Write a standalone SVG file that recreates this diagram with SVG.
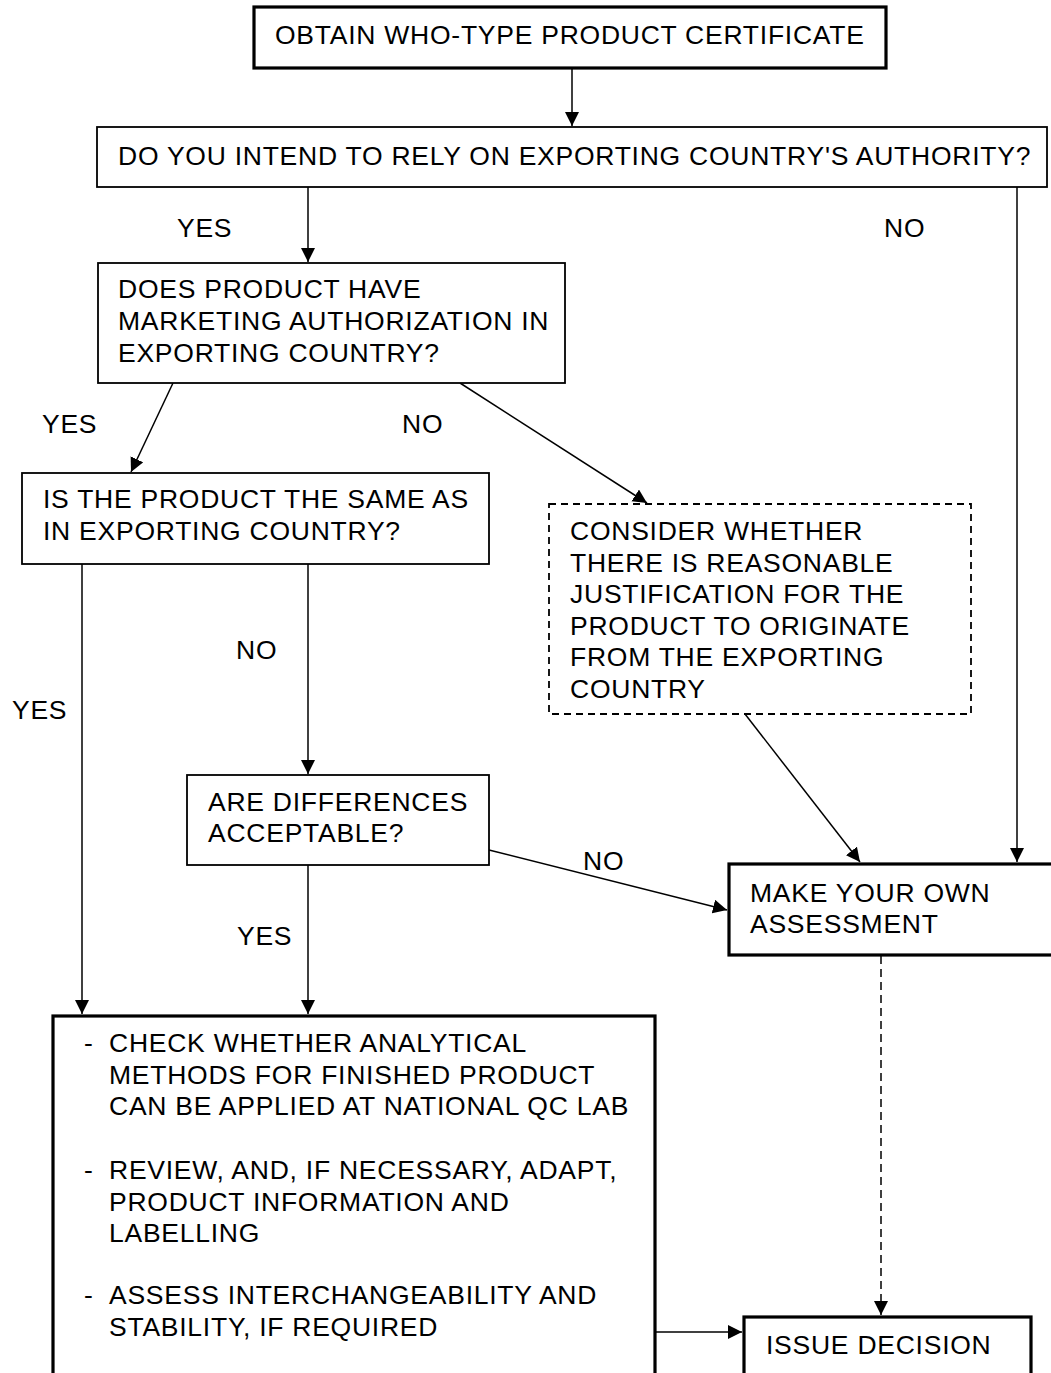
<svg xmlns="http://www.w3.org/2000/svg" width="1051" height="1373" viewBox="0 0 1051 1373">
<defs>
<marker id="ah" markerUnits="userSpaceOnUse" markerWidth="15" markerHeight="15" refX="14" refY="7" orient="auto">
<path d="M0,0 L14,7 L0,14 z" fill="#000"/>
</marker>
<style>
text{font-family:"Liberation Sans",Arial,sans-serif;font-size:26.5px;letter-spacing:0.75px;fill:#000}
.thin{fill:#fff;stroke:#000;stroke-width:1.8}
.thick{fill:#fff;stroke:#000;stroke-width:3.2}
.dash{fill:#fff;stroke:#000;stroke-width:1.8;stroke-dasharray:7 5}
.c{fill:none;stroke:#000;stroke-width:1.5;marker-end:url(#ah)}
.cd{fill:none;stroke:#000;stroke-width:1.5;stroke-dasharray:8 5;marker-end:url(#ah)}
</style>
</defs>
<rect width="1051" height="1373" fill="#fff"/>
<g id="connectors">
<line class="c" x1="572" y1="68" x2="572" y2="126"/>
<line class="c" x1="308" y1="187" x2="308" y2="262"/>
<line class="c" x1="1017" y1="187" x2="1017" y2="862"/>
<line class="c" x1="173" y1="383" x2="131" y2="472"/>
<line class="c" x1="460" y1="383" x2="647" y2="503"/>
<line class="c" x1="308" y1="564" x2="308" y2="774"/>
<line class="c" x1="82" y1="564" x2="82" y2="1014"/>
<line class="c" x1="308" y1="865" x2="308" y2="1014"/>
<line class="c" x1="489" y1="850" x2="727" y2="910"/>
<line class="c" x1="745" y1="714" x2="860" y2="862"/>
<line class="cd" x1="881" y1="956" x2="881" y2="1315"/>
<line class="c" x1="655" y1="1332" x2="742" y2="1332"/>
</g>
<g id="obtain">
<rect class="thick" x="254" y="7" width="632" height="61"/>
<text x="275" y="44">OBTAIN WHO-TYPE PRODUCT CERTIFICATE</text>
</g>
<g id="rely">
<rect class="thin" x="97" y="127" width="950" height="60"/>
<text x="118" y="165">DO YOU INTEND TO RELY ON EXPORTING COUNTRY'S AUTHORITY?</text>
</g>
<g id="labels">
<text x="177" y="237">YES</text>
<text x="884" y="237">NO</text>
<text x="42" y="433">YES</text>
<text x="402" y="433">NO</text>
<text x="236" y="659">NO</text>
<text x="12" y="719">YES</text>
<text x="583" y="870">NO</text>
<text x="237" y="945">YES</text>
</g>
<g id="marketing">
<rect class="thin" x="98" y="263" width="467" height="120"/>
<text x="118" y="298">DOES PRODUCT HAVE</text>
<text x="118" y="330">MARKETING AUTHORIZATION IN</text>
<text x="118" y="362">EXPORTING COUNTRY?</text>
</g>
<g id="same">
<rect class="thin" x="22" y="473" width="467" height="91"/>
<text x="43" y="508">IS THE PRODUCT THE SAME AS</text>
<text x="43" y="540">IN EXPORTING COUNTRY?</text>
</g>
<g id="consider">
<rect class="dash" x="549" y="504" width="422" height="210"/>
<text x="570" y="540">CONSIDER WHETHER</text>
<text x="570" y="571.5">THERE IS REASONABLE</text>
<text x="570" y="603">JUSTIFICATION FOR THE</text>
<text x="570" y="634.5">PRODUCT TO ORIGINATE</text>
<text x="570" y="666">FROM THE EXPORTING</text>
<text x="570" y="697.5">COUNTRY</text>
</g>
<g id="differences">
<rect class="thin" x="187" y="775" width="302" height="90"/>
<text x="208" y="811">ARE DIFFERENCES</text>
<text x="208" y="842">ACCEPTABLE?</text>
</g>
<g id="own">
<rect class="thick" x="729" y="864" width="340" height="91"/>
<text x="750" y="902">MAKE YOUR OWN</text>
<text x="750" y="933">ASSESSMENT</text>
</g>
<g id="checks">
<rect class="thick" x="53" y="1016" width="602" height="420"/>
<text x="84" y="1052">-</text>
<text x="109" y="1052">CHECK WHETHER ANALYTICAL</text>
<text x="109" y="1083.5">METHODS FOR FINISHED PRODUCT</text>
<text x="109" y="1115">CAN BE APPLIED AT NATIONAL QC LAB</text>
<text x="84" y="1179">-</text>
<text x="109" y="1179">REVIEW, AND, IF NECESSARY, ADAPT,</text>
<text x="109" y="1210.5">PRODUCT INFORMATION AND</text>
<text x="109" y="1242">LABELLING</text>
<text x="84" y="1304">-</text>
<text x="109" y="1304">ASSESS INTERCHANGEABILITY AND</text>
<text x="109" y="1335.5">STABILITY, IF REQUIRED</text>
</g>
<g id="decision">
<rect class="thick" x="744" y="1317" width="287" height="120"/>
<text x="766" y="1354">ISSUE DECISION</text>
</g>
</svg>
